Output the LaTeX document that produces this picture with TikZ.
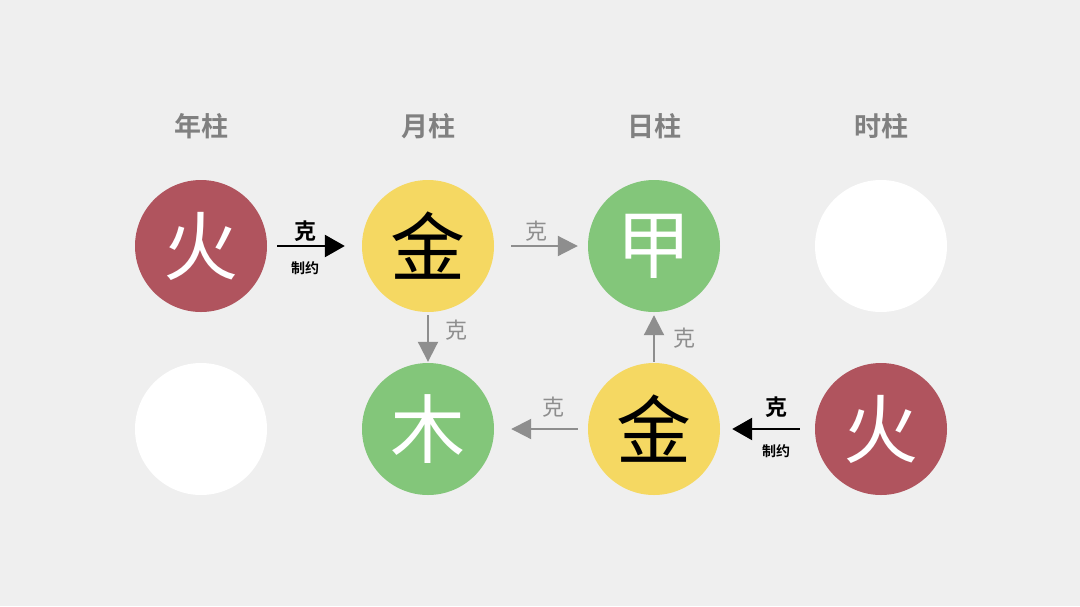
\documentclass[tikz,border=0pt]{standalone}
\usepackage{fontspec}
\newfontfamily\cjk{Noto Sans CJK SC}
\newfontfamily\cjkb{Noto Sans CJK SC Bold}
\usetikzlibrary{arrows.meta}
\definecolor{bg}{HTML}{EFEFEF}
\definecolor{fire}{HTML}{B0545E}
\definecolor{metal}{HTML}{F5D862}
\definecolor{wood}{HTML}{83C67A}
\definecolor{hdr}{HTML}{808080}
\definecolor{garrow}{HTML}{8E8E8E}
\tikzset{
  x=1pt,y=-1pt,
  elem/.style={circle,minimum size=132pt,inner sep=0pt,font=\cjk\fontsize{75}{75}\selectfont},
  header/.style={font=\cjkb\fontsize{27}{27}\selectfont,text=hdr},
  blackarrow/.style={line width=2.6pt,-{Triangle[length=20pt,width=22pt]},black},
  greyarrow/.style={line width=2pt,-{Triangle[length=20pt,width=20pt]},garrow},
  blabel/.style={font=\cjkb\fontsize{22}{22}\selectfont,text=black,inner sep=0pt},
  slabel/.style={font=\cjkb\fontsize{14}{14}\selectfont,text=black,inner sep=0pt},
  glabel/.style={font=\cjk\fontsize{22}{22}\selectfont,text=garrow,inner sep=0pt},
}
\begin{document}
\begin{tikzpicture}
\fill[bg] (0,0) rectangle (1080,606);
\useasboundingbox (0,0) rectangle (1080,606);
% headers
\node[header] (h1) at (201,126) {年柱};
\node[header] (h2) at (428,126) {月柱};
\node[header] (h3) at (654,126) {日柱};
\node[header] (h4) at (881,126) {时柱};
% circles
\node[elem,fill=fire,text=white] (a1) at (201,246) {火};
\node[elem,fill=metal,text=black] (a2) at (428,246) {金};
\node[elem,fill=wood,text=white] (a3) at (654,246) {甲};
\node[elem,fill=white] (a4) at (881,246) {};
\node[elem,fill=white] (b1) at (201,429) {};
\node[elem,fill=wood,text=white] (b2) at (428,429) {木};
\node[elem,fill=metal,text=black] (b3) at (654,429) {金};
\node[elem,fill=fire,text=white] (b4) at (881,429) {火};
% arrows
\draw[blackarrow,shorten <=10pt,shorten >=17pt] (a1) -- (a2);
\node[blabel] (l1) at (305,231) {克};
\node[slabel] (l1b) at (305,268) {制约};
\draw[greyarrow,shorten <=17pt,shorten >=10pt] (a2) -- (a3);
\node[glabel] (l2) at (536,231) {克};
\draw[greyarrow,shorten <=3pt,shorten >=1pt] (a2) -- (b2);
\node[glabel] (l3) at (456,330) {克};
\draw[greyarrow,shorten <=1pt,shorten >=3pt] (b3) -- (a3);
\node[glabel] (l4) at (684,338) {克};
\draw[greyarrow,shorten <=10pt,shorten >=17pt] (b3) -- (b2);
\node[glabel] (l5) at (553,407) {克};
\draw[blackarrow,shorten <=15pt,shorten >=12pt] (b4) -- (b3);
\node[blabel] (l6) at (776,407) {克};
\node[slabel] (l6b) at (776,451) {制约};
\end{tikzpicture}
\end{document}
